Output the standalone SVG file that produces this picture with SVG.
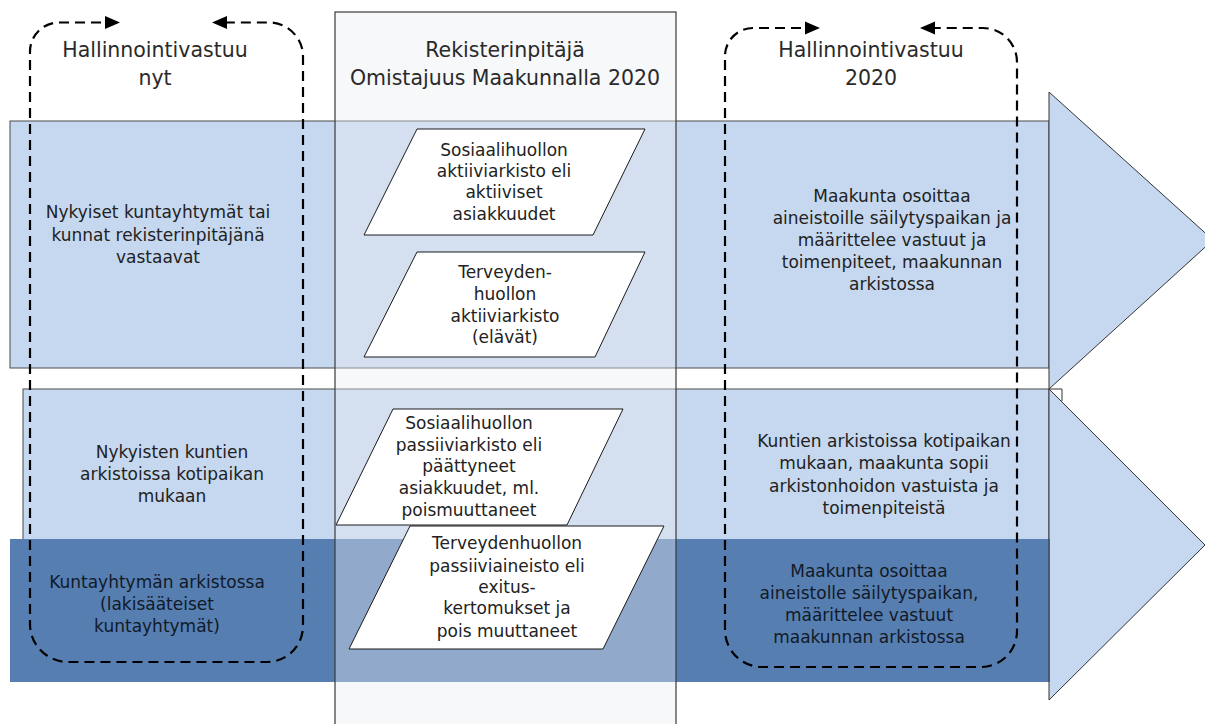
<svg xmlns="http://www.w3.org/2000/svg" width="1205" height="724" viewBox="0 0 1205 724">
<style>
.band{fill:#c6d8ef;stroke:#4a4a4a;stroke-width:1}
.dark{fill:#577eb1}
.head{fill:#c6d8ef;stroke:#333;stroke-width:1}
.col{fill:#e9edf3;fill-opacity:0.4;stroke:#3a3a3a;stroke-width:1.2}
.para{fill:#ffffff;stroke:#1a1a1a;stroke-width:1}
.t{font-family:"DejaVu Sans",sans-serif;font-size:17px;fill:#222;text-anchor:middle}
.td{font-family:"DejaVu Sans",sans-serif;font-size:17px;fill:#111a28;text-anchor:middle}
.title{font-family:"DejaVu Sans",sans-serif;font-size:20.5px;fill:#2a2a2a;text-anchor:middle}
.dash{fill:none;stroke:#000;stroke-width:2.2;stroke-dasharray:10 6;marker-start:url(#ah);marker-end:url(#ah)}
</style>
<defs>
<marker id="ah" markerUnits="userSpaceOnUse" viewBox="0 0 15 14" markerWidth="15" markerHeight="14" refX="12" refY="7" orient="auto-start-reverse">
<path d="M0,0.5 L15,7 L0,13.5 z" fill="#000"/>
</marker>
</defs>
<rect width="1205" height="724" fill="#ffffff"/>

<g id="band1">
<rect class="band" x="10" y="121" width="1039" height="247"/>
<polygon class="head" points="1049,92 1213,240 1049,389"/>
</g>
<g id="band2">
<rect class="band" x="23" y="389" width="1026" height="160"/>
<polygon class="head" points="1049,389 1205,545 1049,700"/>
<polyline points="1049,389 1062,389 1062,401" fill="none" stroke="#333" stroke-width="1"/>
</g>
<g id="band3">
<rect class="dark" x="10" y="539" width="1039" height="143"/>
<line x1="1049" y1="539" x2="1049" y2="682" stroke="#333" stroke-width="1"/>
</g>

<g id="column">
<rect class="col" x="335" y="12" width="341" height="720"/>
<text class="title" x="505" y="57">Rekisterinpitäjä</text>
<text class="title" x="505" y="85">Omistajuus Maakunnalla 2020</text>
</g>

<g id="title-left">
<text class="title" x="155" y="57">Hallinnointivastuu</text>
<text class="title" x="155" y="85">nyt</text>
</g>
<g id="title-right">
<text class="title" x="871" y="57">Hallinnointivastuu</text>
<text class="title" x="871" y="85">2020</text>
</g>

<g id="text-band1-left">
<text class="t" x="158" y="218">Nykyiset kuntayhtymät tai</text>
<text class="t" x="158" y="241">kunnat rekisterinpitäjänä</text>
<text class="t" x="158" y="263">vastaavat</text>
</g>
<g id="text-band1-right">
<text class="t" x="892" y="202">Maakunta osoittaa</text>
<text class="t" x="892" y="224">aineistoille säilytyspaikan ja</text>
<text class="t" x="892" y="246">määrittelee vastuut ja</text>
<text class="t" x="892" y="268">toimenpiteet, maakunnan</text>
<text class="t" x="892" y="290">arkistossa</text>
</g>
<g id="text-band2-left">
<text class="t" x="172" y="458">Nykyisten kuntien</text>
<text class="t" x="172" y="480">arkistoissa kotipaikan</text>
<text class="t" x="172" y="502">mukaan</text>
</g>
<g id="text-band2-right">
<text class="t" x="884" y="447">Kuntien arkistoissa kotipaikan</text>
<text class="t" x="884" y="469">mukaan, maakunta sopii</text>
<text class="t" x="884" y="492">arkistonhoidon vastuista ja</text>
<text class="t" x="884" y="514">toimenpiteistä</text>
</g>
<g id="text-band3-left">
<text class="td" x="157" y="588">Kuntayhtymän arkistossa</text>
<text class="td" x="157" y="610">(lakisääteiset</text>
<text class="td" x="157" y="632">kuntayhtymät)</text>
</g>
<g id="text-band3-right">
<text class="td" x="869" y="577">Maakunta osoittaa</text>
<text class="td" x="869" y="599">aineistolle säilytyspaikan,</text>
<text class="td" x="869" y="621">määrittelee vastuut</text>
<text class="td" x="869" y="643">maakunnan arkistossa</text>
</g>

<g id="p1">
<polygon class="para" points="417,129 645,129 593,235 364,235"/>
<text class="t" x="504" y="156">Sosiaalihuollon</text>
<text class="t" x="504" y="177">aktiiviarkisto eli</text>
<text class="t" x="504" y="198">aktiiviset</text>
<text class="t" x="504" y="220">asiakkuudet</text>
</g>
<g id="p2">
<polygon class="para" points="417,252 645,252 595,357 364,357"/>
<text class="t" x="505" y="278">Terveyden-</text>
<text class="t" x="505" y="300">huollon</text>
<text class="t" x="505" y="322">aktiiviarkisto</text>
<text class="t" x="505" y="343">(elävät)</text>
</g>
<g id="p3">
<polygon class="para" points="393,409 623,409 567,525 336,525"/>
<text class="t" x="469" y="429">Sosiaalihuollon</text>
<text class="t" x="469" y="451">passiiviarkisto eli</text>
<text class="t" x="469" y="472">päättyneet</text>
<text class="t" x="469" y="494">asiakkuudet, ml.</text>
<text class="t" x="469" y="516">poismuuttaneet</text>
</g>
<g id="p4">
<polygon class="para" points="410,526 664,526 603,649 349,649"/>
<text class="t" x="507" y="549">Terveydenhuollon</text>
<text class="t" x="507" y="572">passiiviaineisto eli</text>
<text class="t" x="507" y="593">exitus-</text>
<text class="t" x="507" y="614">kertomukset ja</text>
<text class="t" x="507" y="637">pois muuttaneet</text>
</g>

<g id="connectors">
<path class="dash" d="M117,22.5 L59,22.5 A29,29 0 0 0 30,51.5 L30,624 A38,38 0 0 0 68,662 L267,662 A36,36 0 0 0 303,626 L303,56.5 A34,34 0 0 0 269,22.5 L215,22.5"/>
<path class="dash" d="M817,28 L753,28 A28,28 0 0 0 725,56 L725,630 A37,37 0 0 0 762,667 L981,667 A36,36 0 0 0 1017,631 L1017,62 A34,34 0 0 0 983,28 L923,28"/>
</g>
</svg>
